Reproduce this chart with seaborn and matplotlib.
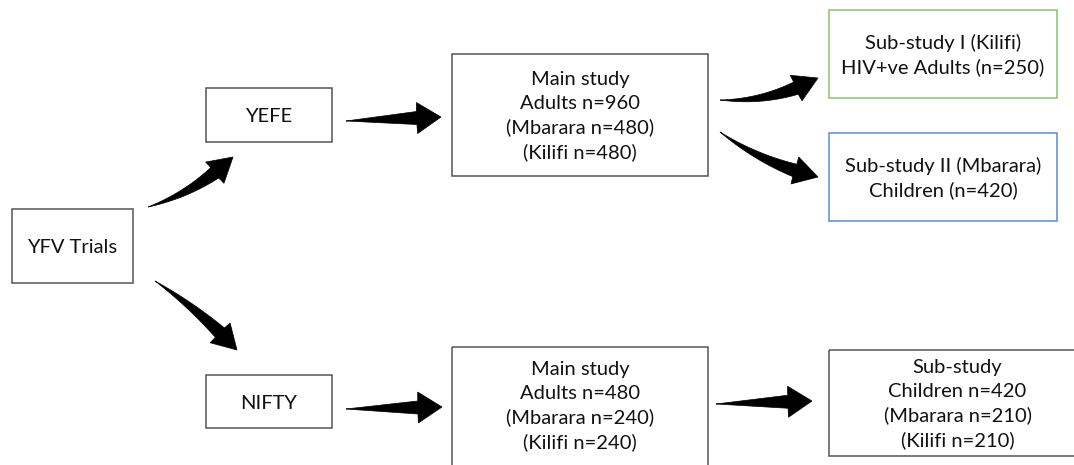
import numpy as np
import matplotlib.pyplot as plt
import seaborn as sns
from matplotlib.patches import Rectangle, Polygon

# Etiquetas del diagrama de flujo
trials = "YFV Trials"
studies = ["YEFE", "NIFTY"]
main_total = [960, 480]
main_mbarara = [480, 240]
main_kilifi = [480, 240]
sub1_hiv = 250
sub2_children = 420
nifty_sub_children = 420
nifty_sub_mbarara = 210
nifty_sub_kilifi = 210

sns.set_theme(style="white")
plt.rcParams['font.family'] = ['Lato', 'DejaVu Sans']

fig = plt.figure(figsize=(10.74, 4.65), dpi=100)
ax = fig.add_axes([0, 0, 1, 1])
ax.set_xlim(0, 1074)
ax.set_ylim(465, 0)
ax.axis('off')

textos = {
    'yfv': trials,
    'yefe': studies[0],
    'nifty': studies[1],
    'main1': "Main study\nAdults n=%d\n(Mbarara n=%d)\n(Kilifi n=%d)" % (main_total[0], main_mbarara[0], main_kilifi[0]),
    'main2': "Main study\nAdults n=%d\n(Mbarara n=%d)\n(Kilifi n=%d)" % (main_total[1], main_mbarara[1], main_kilifi[1]),
    'sub1': "Sub-study I (Kilifi)\nHIV+ve Adults (n=%d)" % sub1_hiv,
    'sub2': "Sub-study II (Mbarara)\nChildren (n=%d)" % sub2_children,
    'sub3': "Sub-study\nChildren n=%d\n(Mbarara n=%d)\n(Kilifi n=%d)" % (nifty_sub_children, nifty_sub_mbarara, nifty_sub_kilifi),
}

# (x0, y0, x1, y1, color del borde, y del texto)
cajas = {
    'yfv': (12, 209, 133, 283, '#555555', 247),
    'yefe': (206, 88, 332, 142, '#555555', 116),
    'nifty': (206, 375, 332, 428, '#555555', 403),
    'main1': (452, 54, 708, 176, '#555555', 116),
    'main2': (452, 347, 708, 467, '#555555', 406),
    'sub1': (829, 10, 1057, 98, '#8cc06a', 55),
    'sub2': (829, 133, 1057, 221, '#5b8bd9', 178),
    'sub3': (829, 350, 1086, 456, '#555555', 404),
}

for k, (x0, y0, x1, y1, c, ty) in cajas.items():
    ax.add_patch(Rectangle((x0, y0), x1 - x0, y1 - y0, fill=False, edgecolor=c, lw=1.1))
    ax.text((x0 + x1) / 2, ty, textos[k], ha='center', va='center',
            fontsize=14.5, color='#111111', linespacing=1.45)


def flecha(p0, p2, rad, head_w=28, head_l=24, tail_w=13):
    # flecha gruesa que se afina hacia la cola (estilo PowerPoint)
    p0 = np.array(p0, float)
    p2 = np.array(p2, float)
    d = p2 - p0
    p1 = (p0 + p2) / 2 + rad * np.array([-d[1], d[0]])
    t = np.linspace(0, 1, 200)[:, None]
    pts = (1 - t) ** 2 * p0 + 2 * (1 - t) * t * p1 + t ** 2 * p2
    tang = 2 * (1 - t) * (p1 - p0) + 2 * t * (p2 - p1)
    tang = tang / np.linalg.norm(tang, axis=1)[:, None]
    dist = np.linalg.norm(pts - p2, axis=1)
    ib = np.where(dist >= head_l)[0][-1]
    tip_dir = (p2 - pts[ib]) / np.linalg.norm(p2 - pts[ib])
    base = p2 - head_l * tip_dir
    pts = pts[:ib + 1]
    tang = tang[:ib + 1]
    norm = np.column_stack([-tang[:, 1], tang[:, 0]])
    w = tail_w / 2 * np.linspace(0, 1, len(pts))[:, None]
    izq = pts + norm * w
    der = pts - norm * w
    n_end = np.array([-tip_dir[1], tip_dir[0]])
    cabeza = [base + n_end * head_w / 2, p2, base - n_end * head_w / 2]
    poly = np.vstack([izq, cabeza, der[::-1]])
    ax.add_patch(Polygon(poly, closed=True, facecolor='black', edgecolor='black', lw=0.5))


# Flechas: (inicio, fin, curvatura, ancho de la cabeza)
flechas = [
    ((148, 207), (233, 157), 0.12, 28),
    ((155, 281), (237, 350), -0.06, 28),
    ((346, 121), (441, 117), 0.0, 31),
    ((346, 409), (442, 407), 0.0, 31),
    ((720, 100), (818, 78), 0.14, 28),
    ((720, 132), (818, 177), 0.1, 28),
    ((716, 404), (812, 401), 0.0, 31),
]
for a, b, rad, hw in flechas:
    flecha(a, b, rad, head_w=hw)

plt.savefig('out.png', dpi=100)
